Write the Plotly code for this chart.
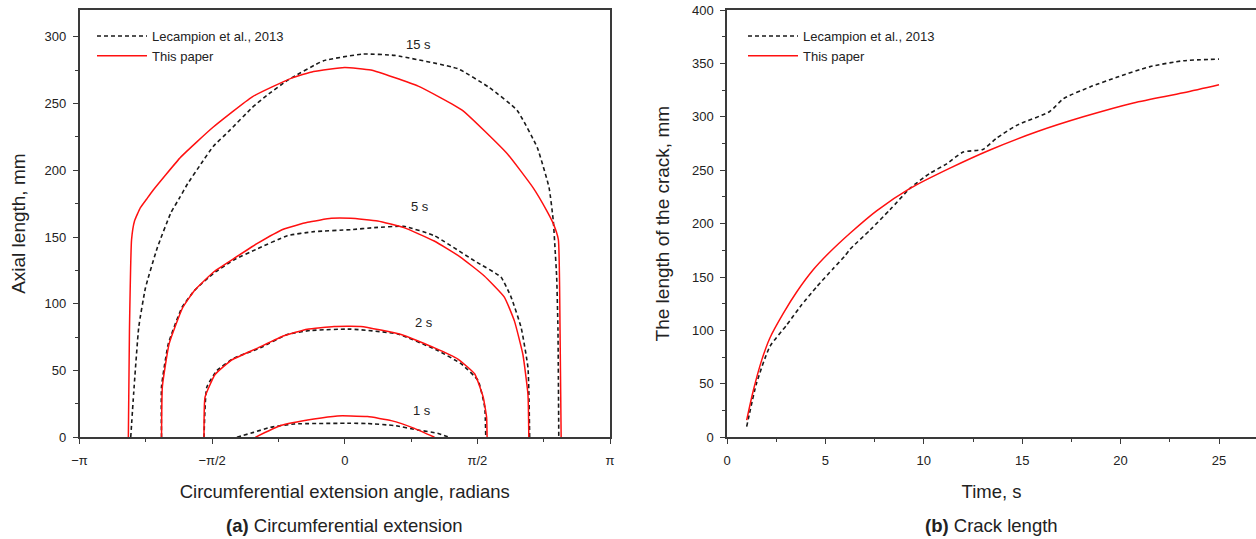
import numpy as np
import plotly.graph_objects as go

PI = np.pi

# ---------------- (a) Circumferential extension ----------------
# Lecampion et al., 2013 (dashed) - angle (rad), axial length (mm)
lec_15_x = [-2.535, -2.50, -2.44, -2.36, -2.22, -2.06, -1.95, -1.86, -1.70, -1.556, -1.36, -1.095,
            -0.924, -0.674, -0.25, 0.217, 0.59, 1.34, 1.71, 2.04, 2.28, 2.42, 2.47, 2.49, 2.51,
            2.525, 2.535]
lec_15_y = [0, 33, 82.5, 112, 142, 168, 180, 190, 205, 218, 230, 247,
            256, 267.5, 282, 287, 286, 276, 262, 245, 217, 187, 162, 142, 120,
            82, 0]
lec_5_x = [-2.17, -2.17, -2.09, -1.93, -1.78, -1.55, -1.31, -1.04, -0.68, -0.365, 0.07, 0.35,
           0.70, 1.06, 1.54, 1.85, 1.97, 2.09, 2.17, 2.19]
lec_5_y = [0, 38, 70, 97, 110, 123, 133, 141, 151, 154, 155.5, 157,
           158, 151, 132, 120, 105, 82, 52, 0]
lec_2_x = [-1.667, -1.634, -1.515, -1.32, -1.0, -0.68, -0.405, 0.07, 0.627, 1.10, 1.38, 1.58, 1.658, 1.67]
lec_2_y = [0, 37.5, 50, 59, 67, 77, 80, 81, 77.4, 65, 55, 42.4, 22.4, 0]
lec_1_x = [-1.277, -1.08, -0.88, -0.6, 0.07, 0.27, 0.587, 0.865, 1.10, 1.24]
lec_1_y = [0, 3.7, 7.5, 10, 10.5, 10.3, 8.8, 5.5, 3, 0]

# This paper (solid red)
tp_15_x = [-2.563, -2.55, -2.525, -2.49, -2.42, -2.345, -2.27, -1.94, -1.564, -1.095, -0.63, -0.37,
           0.0, 0.31, 0.87, 1.39, 1.93, 2.23, 2.39, 2.47, 2.53, 2.55, 2.563]
tp_15_y = [0, 80, 148, 162, 172, 178.5, 185, 210, 232, 255, 269, 274,
           277, 275, 263, 245, 212, 187, 170, 160, 148, 80, 0]
tp_5_x = [-2.17, -2.16, -2.08, -1.92, -1.78, -1.55, -1.31, -1.04, -0.72, -0.44, -0.16, 0.07,
          0.39, 0.70, 1.06, 1.37, 1.65, 1.89, 2.01, 2.11, 2.17, 2.18]
tp_5_y = [0, 38, 70, 97, 110, 124, 134, 145, 156, 161, 164, 164,
          162, 157, 147, 135, 121, 105, 87, 62, 32, 0]
tp_2_x = [-1.667, -1.655, -1.536, -1.337, -1.04, -0.72, -0.444, -0.127, 0.19, 0.667, 1.063, 1.34,
          1.54, 1.64, 1.68, 1.686]
tp_2_y = [0, 30, 47, 58, 66.6, 76, 81, 83, 83, 77, 67, 58.6, 47.4, 30, 15, 0]
tp_1_x = [-1.06, -0.76, -0.365, -0.087, 0.07, 0.27, 0.55, 0.825, 1.063]
tp_1_y = [0, 8.8, 13.7, 16, 16, 15.5, 12.5, 6.7, 0]

time_labels = ["15 s", "5 s", "2 s", "1 s"]
time_label_x = [0.87, 0.89, 0.94, 0.92]
time_label_y = [294, 173, 86, 20]

angle_tickvals = [-PI, -PI / 2, 0, PI / 2, PI]
angle_ticktext = ["\u2212\u03c0", "\u2212\u03c0/2", "0", "\u03c0/2", "\u03c0"]

# ---------------- (b) Crack length ----------------
lec_t = [1.0, 1.5, 2.18, 3.03, 3.71, 4.56, 5.4, 6.0, 6.25, 7.27, 8.28, 9.3, 10.3, 11.16, 12.0,
         13.0, 13.7, 14.72, 16.4, 17.1, 18.45, 19.8, 21.5, 23.19, 25.0]
lec_len = [10, 50.5, 85, 105, 122, 141, 158, 170, 176, 194, 213, 233, 247, 256, 267,
           269.5, 280, 292, 305, 317, 328, 337, 347, 352.5, 354]
tp_t = [1.0, 1.34, 1.76, 2.18, 2.86, 3.54, 4.39, 5.15, 6.25, 7.6, 9.3, 11.33, 13.36, 15.74,
        18.1, 20.65, 23.19, 25.0]
tp_len = [16, 44, 72, 93, 116, 136, 157, 172, 191, 212, 233, 252, 269, 286,
          300, 313, 322.5, 330]

# ---------------- styling ----------------
FONT = "Liberation Sans, Arial, sans-serif"
RED = "#ff1010"
BLK = "#1a1a1a"
AXC = "#3a3a3a"
TXT = "#222"
DASH = "4px,3px"
W, H = 1256, 539

fig = go.Figure()

lec_sets = [(lec_15_x, lec_15_y), (lec_5_x, lec_5_y), (lec_2_x, lec_2_y), (lec_1_x, lec_1_y)]
tp_sets = [(tp_15_x, tp_15_y), (tp_5_x, tp_5_y), (tp_2_x, tp_2_y), (tp_1_x, tp_1_y)]

for i, (xs, ys) in enumerate(lec_sets):
    fig.add_trace(go.Scatter(x=xs, y=ys, mode="lines", xaxis="x", yaxis="y",
                             line=dict(color=BLK, width=1.6, dash=DASH, shape="spline",
                                       smoothing=0.4),
                             name="Lecampion et al., 2013", legendgroup="lec",
                             showlegend=(i == 0), legend="legend"))
for i, (xs, ys) in enumerate(tp_sets):
    fig.add_trace(go.Scatter(x=xs, y=ys, mode="lines", xaxis="x", yaxis="y",
                             line=dict(color=RED, width=1.5, shape="spline", smoothing=0.4),
                             name="This paper", legendgroup="tp",
                             showlegend=(i == 0), legend="legend"))

fig.add_trace(go.Scatter(x=lec_t, y=lec_len, mode="lines", xaxis="x2", yaxis="y2",
                         line=dict(color=BLK, width=1.6, dash=DASH, shape="spline", smoothing=0.6),
                         name="Lecampion et al., 2013", legend="legend2"))
fig.add_trace(go.Scatter(x=tp_t, y=tp_len, mode="lines", xaxis="x2", yaxis="y2",
                         line=dict(color=RED, width=1.5, shape="spline", smoothing=0.8),
                         name="This paper", legend="legend2"))

def px_x(p):
    return p / W

def px_y(p):
    return (H - p) / H

ybot, ytop = px_y(437.3), px_y(10)

common_axis = dict(showline=True, linecolor=AXC, linewidth=1.5, ticks="outside", ticklen=5,
                   tickwidth=1.2, tickcolor=AXC, showgrid=False, zeroline=False,
                   tickfont=dict(family=FONT, size=13, color=TXT),
                   automargin=False)

fig.update_layout(
    width=W, height=H,
    margin=dict(l=0, r=0, t=0, b=0),
    paper_bgcolor="white", plot_bgcolor="white",
    font=dict(family=FONT, color=TXT),
    xaxis=dict(domain=[px_x(79.5), px_x(610)], range=[-PI, PI], anchor="y",
               tickmode="array", tickvals=angle_tickvals, ticktext=angle_ticktext,
               mirror=True, ticklabelstandoff=5,
               minor=dict(tickmode="linear", tick0=0, dtick=PI / 4, ticks="outside", ticklen=3,
                          tickcolor=AXC),
               title=dict(text="Circumferential extension angle, radians",
                          font=dict(family=FONT, size=18.5, color=TXT), standoff=18),
               **common_axis),
    yaxis=dict(domain=[ybot, ytop], range=[0, 320], anchor="x", dtick=50, tick0=0,
               mirror=True, ticklabelstandoff=4,
               minor=dict(dtick=25, ticks="outside", ticklen=3, tickcolor=AXC),
               title=dict(text="Axial length, mm", font=dict(family=FONT, size=19, color=TXT),
                          standoff=14),
               **common_axis),
    xaxis2=dict(domain=[px_x(727), 1.0], range=[0, 26.88], anchor="y2", dtick=5, tick0=0,
                mirror=True, ticklabelstandoff=5,
                minor=dict(dtick=2.5, ticks="outside", ticklen=3, tickcolor=AXC),
                title=dict(text="Time, s", font=dict(family=FONT, size=18.5, color=TXT),
                           standoff=18),
                **common_axis),
    yaxis2=dict(domain=[ybot, ytop], range=[0, 400], anchor="x2", dtick=50, tick0=0,
                mirror=False, ticklabelstandoff=4,
                minor=dict(dtick=25, ticks="outside", ticklen=3, tickcolor=AXC),
                title=dict(text="The length of the crack, mm",
                           font=dict(family=FONT, size=19, color=TXT), standoff=17),
                **common_axis),
    legend=dict(x=px_x(92), y=px_y(21), xanchor="left", yanchor="top",
                bgcolor="rgba(0,0,0,0)", font=dict(family=FONT, size=13, color=TXT),
                itemwidth=50, tracegroupgap=0),
    legend2=dict(x=px_x(743), y=px_y(21), xanchor="left", yanchor="top",
                 bgcolor="rgba(0,0,0,0)", font=dict(family=FONT, size=13, color=TXT),
                 itemwidth=50, tracegroupgap=0),
)

for txt, lx, ly in zip(time_labels, time_label_x, time_label_y):
    fig.add_annotation(x=lx, y=ly, xref="x", yref="y", text=txt, showarrow=False,
                       font=dict(family=FONT, size=13, color=TXT))

fig.add_annotation(x=px_x(344.7), y=px_y(525), xref="paper", yref="paper",
                   xanchor="center", yanchor="middle",
                   text="<b>(a)</b> Circumferential extension", showarrow=False,
                   font=dict(family=FONT, size=18.5, color=TXT))
fig.add_annotation(x=px_x(991), y=px_y(525), xref="paper", yref="paper",
                   xanchor="center", yanchor="middle",
                   text="<b>(b)</b> Crack length", showarrow=False,
                   font=dict(family=FONT, size=18.5, color=TXT))

fig.write_html("out.html")
